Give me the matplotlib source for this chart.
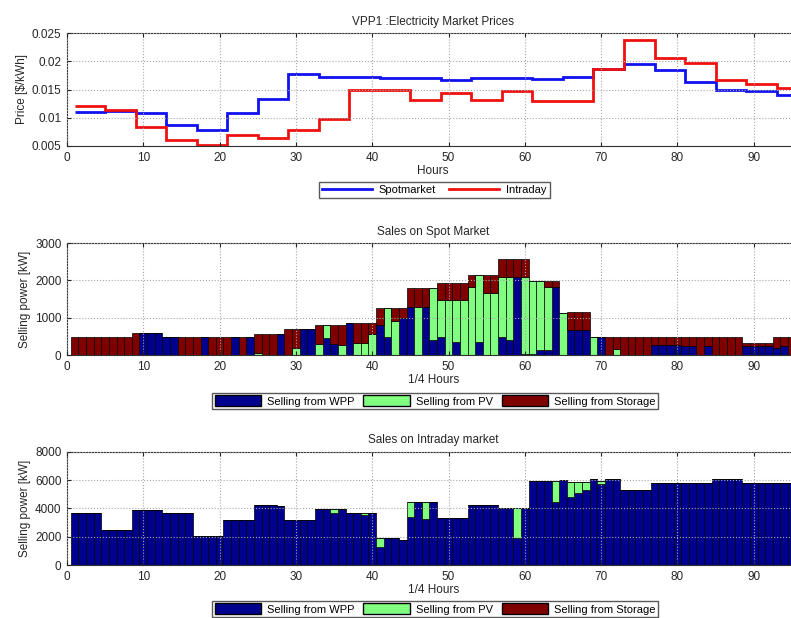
import numpy as np
import matplotlib
matplotlib.use("Agg")
import matplotlib.pyplot as plt
from matplotlib.patches import Patch
from matplotlib.lines import Line2D

plt.rcParams['font.family'] = ['Liberation Sans', 'DejaVu Sans']

# hourly prices, each held for four quarter-hours (x = 1..96)
hour_edges = np.arange(1, 98, 4)
spot_price = [0.0111, 0.0112, 0.0108, 0.0087, 0.0078, 0.0108, 0.0133, 0.0178,
              0.0173, 0.0173, 0.0170, 0.0171, 0.0167, 0.0171, 0.0170, 0.0169,
              0.0172, 0.0187, 0.0195, 0.0184, 0.0163, 0.0150, 0.0147, 0.0140]
intraday_price = [0.0120, 0.0114, 0.0083, 0.0060, 0.0052, 0.0070, 0.0064, 0.0078,
                  0.0097, 0.0149, 0.0150, 0.0131, 0.0143, 0.0132, 0.0147, 0.0130,
                  0.0130, 0.0187, 0.0237, 0.0205, 0.0197, 0.0166, 0.0159, 0.0153]

quarter = np.arange(1, 97)

spot_wpp = [0, 0, 0, 0, 0, 0, 0, 0,
            0, 580, 580, 580,
            490, 490, 0, 0,
            0, 490, 0, 0,
            0, 490, 0, 490,
            0, 0, 0, 550,
            0, 0, 690, 690,
            0, 450, 300, 0,
            850, 0, 0, 0,
            800, 480, 0, 1000,
            1290, 0, 1290, 400,
            490, 0, 360, 0,
            0, 360, 0, 0,
            490, 400, 2100, 40,
            30, 130, 130, 1830,
            0, 670, 670, 670,
            0, 470, 0, 0,
            0, 0, 0, 0,
            270, 270, 270, 270,
            230, 230, 0, 230,
            0, 0, 0, 0,
            250, 250, 250, 250,
            200, 250, 0, 200]
spot_pv = [0, 0, 0, 0, 0, 0, 0, 0,
           0, 0, 0, 0,
           0, 0, 0, 0,
           0, 0, 0, 0,
           0, 0, 0, 0,
           60, 0, 0, 0,
           0, 200, 0, 0,
           300, 350, 0, 280,
           0, 330, 330, 550,
           0, 790, 900, 0,
           0, 1290, 0, 1390,
           990, 1480, 1120, 1480,
           1830, 1770, 1660, 1660,
           1600, 1690, 0, 2060,
           1960, 1860, 1700, 0,
           1130, 0, 0, 0,
           470, 0, 0, 150,
           0, 0, 0, 0,
           0, 0, 0, 0,
           0, 0, 0, 0,
           0, 0, 0, 0,
           0, 0, 0, 0,
           0, 0, 0, 0]
spot_storage = [490, 490, 490, 490, 490, 490, 490, 490,
                580, 0, 0, 0,
                0, 0, 490, 490,
                490, 0, 490, 490,
                490, 0, 490, 0,
                490, 550, 550, 0,
                690, 490, 0, 0,
                500, 0, 500, 520,
                0, 520, 520, 300,
                470, 0, 370, 270,
                500, 500, 500, 0,
                460, 460, 460, 460,
                300, 0, 470, 470,
                470, 470, 460, 460,
                0, 0, 160, 160,
                0, 490, 490, 490,
                0, 0, 470, 320,
                470, 470, 470, 470,
                200, 200, 200, 200,
                240, 240, 470, 240,
                470, 470, 470, 470,
                60, 60, 60, 60,
                270, 220, 470, 270]

intra_wpp = [3650, 3650, 3650, 3650,
             2470, 2470, 2470, 2470,
             3870, 3870, 3850, 3850,
             3690, 3690, 3690, 3690,
             2070, 2070, 2070, 2070,
             3180, 3180, 3180, 3180,
             4240, 4240, 4240, 4150,
             3180, 3180, 3180, 3180,
             3930, 3930, 3690, 3930,
             3650, 3650, 3550, 3650,
             1250, 1880, 1880, 1760,
             3410, 4470, 3220, 4470,
             3340, 3340, 3340, 3340,
             4240, 4240, 4240, 4240,
             4000, 4000, 1880, 4000,
             5950, 5950, 5950, 4470,
             6000, 4820, 5060, 5290,
             6050, 5750, 6050, 6050,
             5290, 5290, 5290, 5290,
             5760, 5760, 5760, 5760,
             5810, 5810, 5810, 5810,
             6050, 6050, 6050, 6050,
             5810, 5810, 5810, 5810,
             5760, 5760, 5760, 5760]
intra_pv = [0] * 96
for q, v in [(35, 240), (39, 100), (41, 630), (45, 1060), (47, 1250), (59, 2120),
             (64, 1480), (66, 1060), (67, 820), (68, 590), (70, 150)]:
    intra_pv[q - 1] = v
intra_storage = [0] * 96

c_wpp = '#00008f'
c_pv = '#80ff80'
c_sto = '#800000'
txt = '#262626'

fig = plt.figure(figsize=(7.91, 6.18), dpi=100)


def style_axes(ax, ylim, yticks, yticklabels=None):
    ax.set_xlim(0, 96)
    ax.set_ylim(*ylim)
    ax.set_xticks(range(0, 100, 10))
    ax.set_yticks(yticks)
    if yticklabels is not None:
        ax.set_yticklabels(yticklabels)
    ax.grid(True, linestyle=':', color='#a8a8a8', linewidth=0.8)
    ax.set_axisbelow(False)
    ax.tick_params(direction='in', top=True, right=True, length=3,
                   labelsize=8.5, colors=txt, pad=4)
    for s in ax.spines.values():
        s.set_color('#303030')
        s.set_linewidth(0.8)


# prices
ax1 = fig.add_axes([67 / 791, 1 - 146 / 618, 732.5 / 791, 113 / 618])
ax1.stairs(spot_price, hour_edges, baseline=None, color='#1010f0', linewidth=2,
           label='Spotmarket')
ax1.stairs(intraday_price, hour_edges, baseline=None, color='#f01010', linewidth=2,
           label='Intraday')
style_axes(ax1, (0.005, 0.025), [0.005, 0.01, 0.015, 0.02, 0.025],
           ['0.005', '0.01', '0.015', '0.02', '0.025'])
ax1.set_title('VPP1 :Electricity Market Prices', fontsize=8.5, color=txt, pad=6)
ax1.set_xlabel('Hours', fontsize=8.5, color=txt, labelpad=1)
ax1.set_ylabel('Price [$/kWh]', fontsize=8.5, color=txt, labelpad=3)
fig.legend(handles=[Line2D([], [], color='#1010f0', lw=2, label='Spotmarket'),
                    Line2D([], [], color='#f01010', lw=2, label='Intraday')],
           loc='center', bbox_to_anchor=(0.549, 1 - 190 / 618), ncol=2,
           fontsize=8, frameon=True, fancybox=False, edgecolor='#303030',
           handlelength=4.5, columnspacing=1.2, borderpad=0.3, handletextpad=0.6)


def stacked(ax, wpp, pv, sto):
    wpp = np.array(wpp)
    pv = np.array(pv)
    sto = np.array(sto)
    kw = dict(width=1.0, edgecolor='black', linewidth=0.5)
    ax.bar(quarter, wpp, color=c_wpp, **kw)
    ax.bar(quarter, pv, bottom=wpp, color=c_pv, **kw)
    ax.bar(quarter, sto, bottom=wpp + pv, color=c_sto, **kw)


def bar_legend(y):
    handles = [Patch(facecolor=c_wpp, edgecolor='black', label='Selling from WPP'),
               Patch(facecolor=c_pv, edgecolor='black', label='Selling from PV'),
               Patch(facecolor=c_sto, edgecolor='black', label='Selling from Storage')]
    fig.legend(handles=handles, loc='center', bbox_to_anchor=(0.55, y), ncol=3,
               fontsize=8, frameon=True, fancybox=False, edgecolor='#303030',
               handlelength=4.2, handleheight=1.1, columnspacing=0.8,
               borderpad=0.25, handletextpad=0.5)


# spot market sales
ax2 = fig.add_axes([67 / 791, 1 - 355 / 618, 732.5 / 791, 112 / 618])
stacked(ax2, spot_wpp, spot_pv, spot_storage)
style_axes(ax2, (0, 3000), [0, 1000, 2000, 3000])
ax2.set_title('Sales on Spot Market', fontsize=8.5, color=txt, pad=6)
ax2.set_xlabel('1/4 Hours', fontsize=8.5, color=txt, labelpad=1)
ax2.set_ylabel('Selling power [kW]', fontsize=8.5, color=txt, labelpad=3)
bar_legend(1 - 401 / 618)

# intraday sales
ax3 = fig.add_axes([67 / 791, 1 - 565 / 618, 732.5 / 791, 113.3 / 618])
stacked(ax3, intra_wpp, intra_pv, intra_storage)
style_axes(ax3, (0, 8000), [0, 2000, 4000, 6000, 8000])
ax3.set_title('Sales on Intraday market', fontsize=8.5, color=txt, pad=6)
ax3.set_xlabel('1/4 Hours', fontsize=8.5, color=txt, labelpad=1)
ax3.set_ylabel('Selling power [kW]', fontsize=8.5, color=txt, labelpad=3)
bar_legend(1 - 609 / 618)

fig.savefig('out.png', dpi=100)
